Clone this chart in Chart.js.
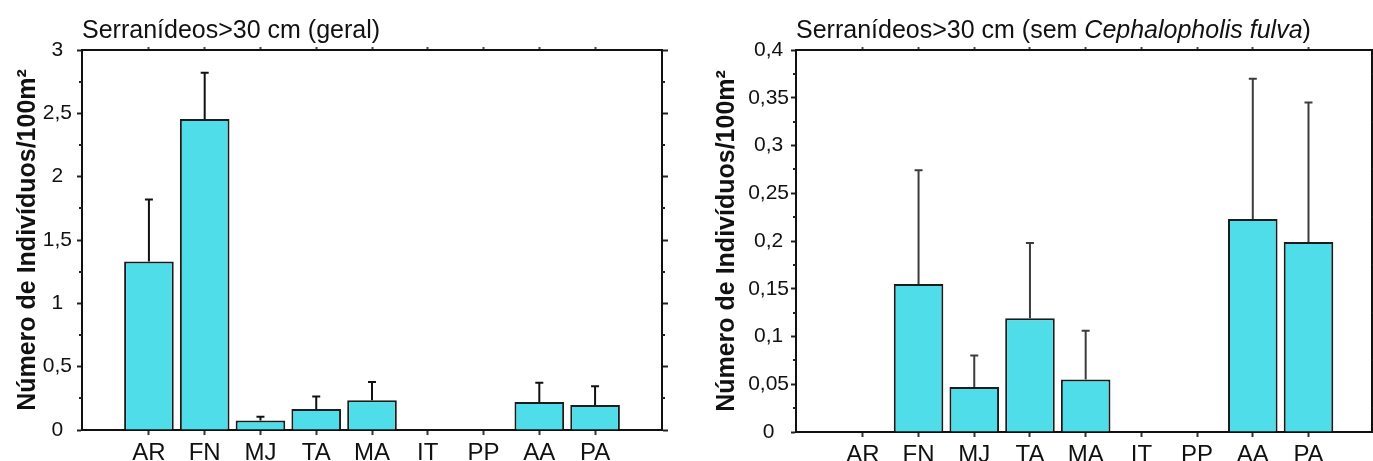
<!DOCTYPE html>
<html lang="pt">
<head>
  <meta charset="UTF-8" />
  <title>Serranídeos &gt; 30 cm</title>
  <style>
    body {
      margin: 0;
      background: #fff;
      font-family: "Liberation Sans", Arial, sans-serif;
      color: #111;
    }
    #wrap {
      position: relative;
      width: 1373px;
      height: 461px;
      overflow: hidden;
    }
    canvas {
      position: absolute;
      top: 0;
    }
    .titulo {
      position: absolute;
      top: 14px;
      font-size: 25px;
      line-height: 30px;
      white-space: nowrap;
    }
  </style>
</head>
<body>

<div id="wrap">
  <canvas id="geral" width="686" height="461" style="left:0"></canvas>
  <canvas id="semFulva" width="687" height="461" style="left:686px"></canvas>
  <div class="titulo" style="left:82px">Serranídeos&gt;30 cm (geral)</div>
  <div class="titulo" style="left:796px">Serranídeos&gt;30 cm (sem <i>Cephalopholis fulva</i>)</div>
</div>

<script src="https://cdn.jsdelivr.net/npm/chart.js"></script>
<script>
  // localidades
  const categorias = ['AR', 'FN', 'MJ', 'TA', 'MA', 'IT', 'PP', 'AA', 'PA'];

  // média e limite superior do erro (geral)
  const geralMedia = [1.33, 2.455, 0.075, 0.165, 0.235, 0, 0, 0.222, 0.197];
  const geralSup   = [1.82, 2.82, 0.105, 0.265, 0.378, 0, 0, 0.373, 0.345];

  // sem Cephalopholis fulva
  const semMedia = [0, 0.155, 0.047, 0.119, 0.055, 0, 0, 0.223, 0.199];
  const semSup   = [0, 0.274, 0.080, 0.198, 0.106, 0, 0, 0.37, 0.345];

  // marcas do eixo y
  const ticksGeral = [0, 0.5, 1, 1.5, 2, 2.5, 3];
  const ticksSem = [0, 0.05, 0.1, 0.15, 0.2, 0.25, 0.3, 0.35, 0.4];

  Chart.defaults.font.family = "'Liberation Sans', Arial, sans-serif";
  Chart.defaults.color = '#111';

  // barras de erro (só para cima) e marcas menores
  const extras = {
    id: 'extras',
    afterDatasetsDraw(chart, args, opts) {
      const ctx = chart.ctx;
      const x = chart.scales.x, y = chart.scales.y;
      ctx.save();
      ctx.strokeStyle = opts.cor;
      ctx.lineWidth = 2;
      opts.media.forEach((v, i) => {
        const s = opts.sup[i];
        if (s <= v) return;
        const px = x.getPixelForValue(i);
        const y0 = y.getPixelForValue(v);
        const y1 = y.getPixelForValue(s);
        ctx.beginPath();
        ctx.moveTo(px, y0);
        ctx.lineTo(px, y1);
        ctx.moveTo(px - 4, y1);
        ctx.lineTo(px + 4, y1);
        ctx.stroke();
      });
      ctx.restore();
    },
    afterDraw(chart) {
      const ctx = chart.ctx;
      const y = chart.scales.y;
      const a = chart.chartArea;
      const t = y.ticks.map(k => k.value);
      ctx.save();
      ctx.strokeStyle = '#222';
      ctx.lineWidth = 2;
      for (let i = 0; i < t.length - 1; i++) {
        const py = Math.round(y.getPixelForValue((t[i] + t[i + 1]) / 2));
        ctx.beginPath();
        ctx.moveTo(a.left - 3, py);
        ctx.lineTo(a.left, py);
        ctx.moveTo(a.right, py);
        ctx.lineTo(a.right + 3, py);
        ctx.stroke();
      }
      ctx.restore();
    }
  };

  function grafico(id, media, sup, yTicks, cfg) {
    const xMin = -1.2;
    const xMax = categorias.length - 1 + cfg.folgaDir;
    const idxTicks = s => { s.ticks = categorias.map((c, i) => ({ value: i })); };
    const yMax = yTicks[yTicks.length - 1];
    const yBuild = s => { s.ticks = yTicks.map(v => ({ value: v })); };

    return new Chart(document.getElementById(id), {
      type: 'bar',
      data: {
        datasets: [{
          data: media.map((v, i) => ({ x: i, y: v })),
          backgroundColor: '#4fdee9',
          borderColor: '#1c1c1c',
          borderWidth: 2,
          categoryPercentage: 1,
          barPercentage: 0.89
        }]
      },
      options: {
        responsive: false,
        animation: false,
        devicePixelRatio: 1,
        layout: { padding: { top: 46, left: 0, right: 0, bottom: 0 } },
        plugins: {
          legend: { display: false },
          tooltip: { enabled: false },
          extras: { media: media, sup: sup, cor: cfg.corErro }
        },
        scales: {
          x: {
            type: 'linear',
            position: 'bottom',
            min: xMin,
            max: xMax,
            offset: false,
            afterBuildTicks: idxTicks,
            afterFit: s => { s.height = cfg.altX; },
            ticks: {
              callback: v => categorias[v],
              font: { size: 24 },
              color: '#111',
              autoSkip: false,
              maxRotation: 0,
              padding: 4
            },
            grid: { drawOnChartArea: false, offset: false, tickLength: 5, tickWidth: 2, tickColor: '#333' },
            border: { color: '#111', width: 2 }
          },
          xTop: {
            type: 'linear',
            position: 'top',
            min: xMin,
            max: xMax,
            offset: false,
            afterBuildTicks: idxTicks,
            afterFit: s => { s.height = 4; },
            ticks: { display: false },
            grid: { drawOnChartArea: false, offset: false, tickLength: 3, tickWidth: 2, tickColor: '#444' },
            border: { color: '#111', width: 2 }
          },
          y: {
            min: 0,
            max: yMax,
            afterBuildTicks: yBuild,
            afterFit: s => { s.width = cfg.largY; },
            ticks: {
              callback: v => String(v).replace('.', ','),
              font: { size: 21 },
              color: '#111',
              crossAlign: 'center',
              padding: cfg.padY
            },
            title: {
              display: true,
              text: 'Número de Indivíduos/100m²',
              font: { size: 25, weight: 'bold' },
              color: '#111',
              padding: { top: cfg.padTitulo, bottom: 0 }
            },
            grid: { drawOnChartArea: false, tickLength: 5, tickWidth: 2, tickColor: '#222' },
            border: { color: '#111', width: 2 }
          },
          yR: {
            position: 'right',
            min: 0,
            max: yMax,
            afterBuildTicks: yBuild,
            afterFit: s => { s.width = cfg.largYR; },
            ticks: { display: false },
            grid: { drawOnChartArea: false, tickLength: 6, tickWidth: 2, tickColor: '#222' },
            border: { color: '#111', width: 2 }
          }
        }
      },
      plugins: [extras]
    });
  }

  grafico('geral', geralMedia, geralSup, ticksGeral, {
    folgaDir: 1.2, altX: 31, largY: 82, largYR: 24, padY: 5, padTitulo: 13, corErro: '#111'
  });

  grafico('semFulva', semMedia, semSup, ticksSem, {
    folgaDir: 1.14, altX: 29, largY: 110, largYR: 1, padY: 2, padTitulo: 26, corErro: '#3c3c3c'
  });
</script>

</body>
</html>
